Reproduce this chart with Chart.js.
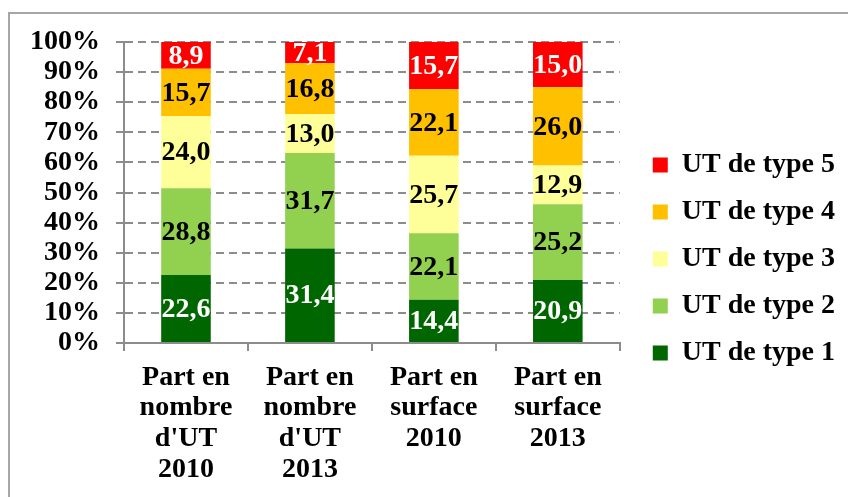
<!DOCTYPE html>
<html>
<head>
<meta charset="utf-8">
<script src="https://cdn.jsdelivr.net/npm/chart.js@4"></script>
<style>
html,body{margin:0;padding:0;background:#fff;}
#wrap{width:848px;height:497px;position:relative;}
</style>
</head>
<body>
<div id="wrap"><canvas id="c" width="848" height="497"></canvas></div>
<script>
const categories = [
  ['Part en','nombre',"d'UT",'2010'],
  ['Part en','nombre',"d'UT",'2013'],
  ['Part en','surface','2010'],
  ['Part en','surface','2013']
];
const seriesNames = ['UT de type 1','UT de type 2','UT de type 3','UT de type 4','UT de type 5'];
const type1 = [22.6, 31.4, 14.4, 20.9];
const type2 = [28.8, 31.7, 22.1, 25.2];
const type3 = [24.0, 13.0, 25.7, 12.9];
const type4 = [15.7, 16.8, 22.1, 26.0];
const type5 = [8.9, 7.1, 15.7, 15.0];
const yTicks = [0,10,20,30,40,50,60,70,80,90,100];

const colors = ['#006600','#92D050','#FFFF99','#FFC000','#FF0000'];
const labelColors = ['#ffffff','#000000','#000000','#000000','#ffffff'];
const FONT = '"Liberation Serif", "Times New Roman", serif';

const frame = {
  id:'frame',
  beforeDraw(chart){
    const ctx = chart.ctx;
    ctx.save();
    ctx.strokeStyle = '#a6a6a6';
    ctx.lineWidth = 2;
    ctx.strokeRect(9, 13, 900, 600);
    ctx.restore();
  }
};

// let the right-hand legend be wider than Chart.js' default vertical box limit
const legendWidth = {
  id:'legendWidth',
  beforeLayout(chart){
    const lg = chart.legend;
    if (lg && !lg._wide) {
      const orig = lg.update.bind(lg);
      lg.update = (mw, mh, m) => orig(Math.max(mw, 260), mh, m);
      lg._wide = true;
    }
  },
  afterLayout(chart){
    // let the multi-line category labels run into the bottom padding without being clipped
    const x = chart.scales.x;
    x.bottom = chart.height;
    x.height = x.bottom - x.top;
  }
};

const valueLabels = {
  id:'valueLabels',
  afterDatasetsDraw(chart){
    const ctx = chart.ctx;
    ctx.save();
    ctx.font = 'bold 28px ' + FONT;
    ctx.textAlign = 'center';
    ctx.textBaseline = 'middle';
    chart.data.datasets.forEach((ds, di) => {
      const meta = chart.getDatasetMeta(di);
      meta.data.forEach((bar, i) => {
        const v = ds.data[i];
        const p = bar.getProps(['x','y','base'], true);
        ctx.fillStyle = labelColors[di];
        ctx.fillText(v.toFixed(1).replace('.', ','), p.x, (p.y + p.base)/2 + 1);
      });
    });
    ctx.restore();
  }
};

const seriesData = [type1, type2, type3, type4, type5];
const datasets = seriesData.map((d, i) => ({
  label: seriesNames[i],
  data: d,
  backgroundColor: colors[i],
  borderWidth: 0,
  barPercentage: 0.4,
  categoryPercentage: 1.0,
  yAxisID: 'y'
}));

new Chart(document.getElementById('c'), {
  type: 'bar',
  data: { labels: categories, datasets },
  options: {
    responsive: false,
    animation: false,
    devicePixelRatio: 1,
    layout: { padding: { left: 14, top: 42, right: 3, bottom: 21 } },
    plugins: {
      legend: {
        position: 'right',
        reverse: true,
        labels: {
          boxWidth: 15,
          boxHeight: 15,
          padding: 19,
          color: '#000',
          font: { family: FONT, size: 28, weight: 'bold' }
        }
      },
      tooltip: { enabled: false }
    },
    scales: {
      x: {
        stacked: true,
        grid: { display: true, drawOnChartArea: false, tickLength: 8, color: '#8c8c8c', lineWidth: 2, offset: true },
        border: { color: '#8c8c8c', width: 2 },
        ticks: { color: '#000', padding: 11, maxRotation: 0, autoSkip: false,
                 font: { family: FONT, size: 28, weight: 'bold', lineHeight: 1.1 } },
        afterFit(scale){ scale.height = 133; }
      },
      y: {
        stacked: true,
        min: 0, max: 100,
        afterBuildTicks(scale){ scale.ticks = yTicks.map(v => ({value: v})); },
        grid: { color: '#8c8c8c', lineWidth: 2, tickLength: 8, tickBorderDash: [], drawTicks: true },
        border: { color: '#8c8c8c', width: 2, dash: [8,5] },
        ticks: { color: '#000', padding: 16, autoSkip: false, callback: v => v + '%',
                 font: { family: FONT, size: 28, weight: 'bold' } }
      },
      y2: {
        position: 'right',
        display: true,
        min: 0, max: 100,
        grid: { display: false, drawTicks: false },
        border: { display: false },
        ticks: { display: false },
        afterFit(scale){ scale.width = 14; }
      }
    }
  },
  plugins: [frame, legendWidth, valueLabels]
});
</script>
</body>
</html>
